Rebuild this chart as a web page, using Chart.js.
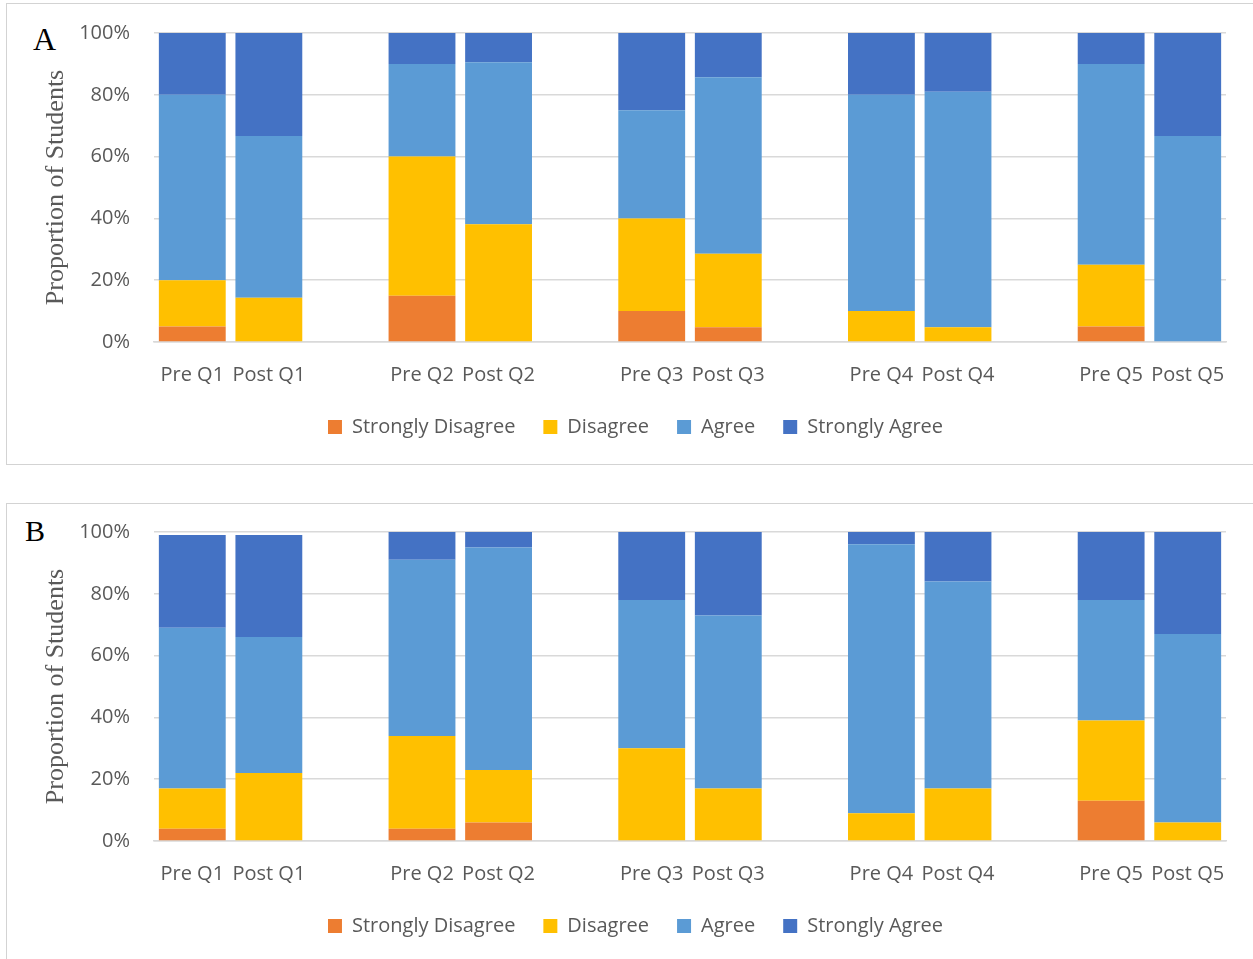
<!DOCTYPE html>
<html>
<head>
<meta charset="utf-8">
<script src="https://cdn.jsdelivr.net/npm/chart.js@4"></script>
<style>
  html, body { margin:0; padding:0; background:#fff; width:1253px; height:959px; overflow:hidden; }
  .frame { position:absolute; border:1px solid #d3d3d3; box-sizing:border-box; }
  .letter { position:absolute; font-family:"Liberation Serif", "Times New Roman", serif; color:#000; line-height:1; }
  canvas { position:absolute; left:0; }
</style>
</head>
<body>
<div class="frame" style="left:6px; top:3px; width:1270px; height:462px;"></div>
<div class="frame" style="left:6px; top:503px; width:1270px; height:480px;"></div>
<div class="letter" style="left:33px; top:23px; font-size:32px; line-height:32px;">A</div>
<div class="letter" style="left:25px; top:516px; font-size:30px; line-height:30px;">B</div>
<canvas id="chartA" width="1253" height="460" style="top:0px;"></canvas>
<canvas id="chartB" width="1253" height="460" style="top:499px;"></canvas>
<script>
// Categories (blank slots separate the question pairs)
const categories = ['Pre Q1','Post Q1','','Pre Q2','Post Q2','','Pre Q3','Post Q3','','Pre Q4','Post Q4','','Pre Q5','Post Q5'];
const seriesNames = ['Strongly Disagree','Disagree','Agree','Strongly Agree'];
const yTicks = [0, 20, 40, 60, 80, 100];

// Panel A (percent of students)
const aStronglyDisagree = [5, 0, null, 15, 0, null, 10, 4.8, null, 0, 0, null, 5, 0];
const aDisagree         = [15, 14.3, null, 45, 38.1, null, 30, 23.8, null, 10, 4.8, null, 20, 0];
const aAgree            = [60, 52.4, null, 30, 52.4, null, 35, 57.1, null, 70, 76.2, null, 65, 66.7];
const aStronglyAgree    = [20, 33.3, null, 10, 9.5, null, 25, 14.3, null, 20, 19.0, null, 10, 33.3];

// Panel B (percent of students)
const bStronglyDisagree = [4, 0, null, 4, 6, null, 0, 0, null, 0, 0, null, 13, 0];
const bDisagree         = [13, 22, null, 30, 17, null, 30, 17, null, 9, 17, null, 26, 6];
const bAgree            = [52, 44, null, 57, 72, null, 48, 56, null, 87, 67, null, 39, 61];
const bStronglyAgree    = [30, 33, null, 9, 5, null, 22, 27, null, 4, 16, null, 22, 33];

const colors = ['#ED7D31', '#FFC000', '#5B9BD5', '#4472C4'];
const textGray = '#595959';
const gridGray = '#d9d9d9';
const uiFont = '"Open Sans", "Noto Sans", sans-serif';

function makeChart(id, series) {
  const datasets = series.map((vals, i) => ({
    label: seriesNames[i],
    data: vals,
    backgroundColor: colors[i],
    borderWidth: 0,
    barPercentage: 0.873,
    categoryPercentage: 1.0
  }));
  return new Chart(document.getElementById(id), {
    type: 'bar',
    data: { labels: categories, datasets },
    options: {
      responsive: false,
      animation: false,
      devicePixelRatio: 1,
      layout: { padding: { left: 45, right: 27, top: 33, bottom: 13 } },
      plugins: {
        tooltip: { enabled: false },
        legend: {
          position: 'bottom',
          labels: {
            boxWidth: 14, boxHeight: 14, padding: 28,
            color: textGray,
            font: { family: uiFont, size: 20 }
          }
        }
      },
      scales: {
        x: {
          stacked: true,
          grid: { display: false },
          border: { display: true, color: gridGray, width: 1.5 },
          ticks: { color: textGray, font: { family: uiFont, size: 20 }, padding: 13, maxRotation: 0, autoSkip: false },
          afterFit: s => { s.height = 47; }
        },
        y: {
          stacked: true,
          min: 0, max: 100,
          afterBuildTicks: s => { s.ticks = yTicks.map(v => ({ value: v })); },
          ticks: { color: textGray, font: { family: uiFont, size: 20 }, padding: 24, callback: v => v + '%' },
          grid: { color: gridGray, lineWidth: 1.5, drawTicks: false },
          border: { display: false },
          title: {
            display: true,
            text: 'Proportion of Students',
            color: textGray,
            font: { family: '"Liberation Serif", "Times New Roman", serif', size: 26 },
            padding: { top: -4, bottom: 0 }
          },
          afterFit: s => { s.width = 109; s.paddingTop = 0; s.paddingBottom = 0; }
        }
      }
    }
  });
}

makeChart('chartA', [aStronglyDisagree, aDisagree, aAgree, aStronglyAgree]);
makeChart('chartB', [bStronglyDisagree, bDisagree, bAgree, bStronglyAgree]);
</script>
</body>
</html>
